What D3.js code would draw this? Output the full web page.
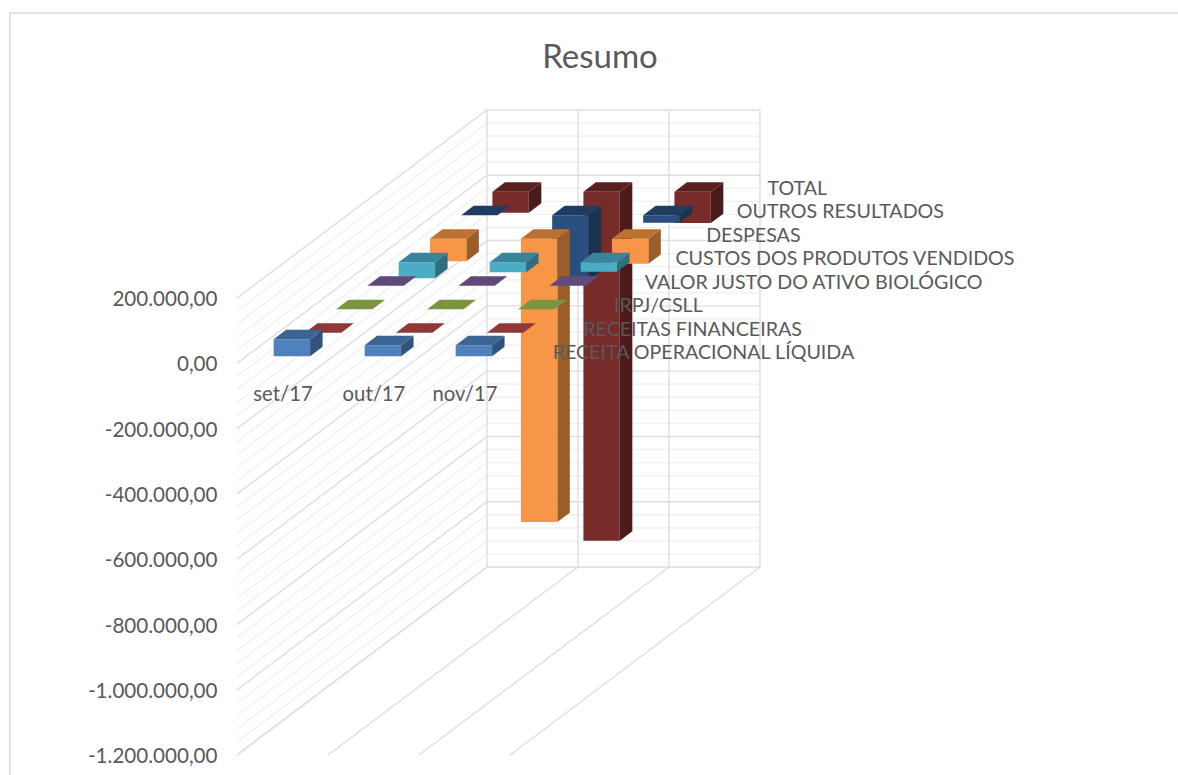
<!DOCTYPE html>
<html>
<head>
<meta charset="utf-8">
<script src="https://cdn.jsdelivr.net/npm/d3@7"></script>
<style>
  body { margin: 0; background: #fff; }
  text { font-family: Lato, "Open Sans", sans-serif; fill: #595959; }
</style>
</head>
<body>
<svg id="chart" width="1178" height="775"></svg>
<script>
const categories = ["set/17", "out/17", "nov/17"];
const seriesNames = [
  "RECEITA OPERACIONAL LÍQUIDA",
  "RECEITAS FINANCEIRAS",
  "IRPJ/CSLL",
  "VALOR JUSTO DO ATIVO BIOLÓGICO",
  "CUSTOS DOS PRODUTOS VENDIDOS",
  "DESPESAS",
  "OUTROS RESULTADOS",
  "TOTAL",
];
// one row per series, same order as seriesNames
const receitaOperacional = [52000, 34000, 34000];
const receitasFinanceiras = [0, 0, 0];
const irpjCsll = [0, 0, 0];
const valorJusto = [0, 0, 0];
const custos = [-49000, -31000, -29000];
const despesas = [-69000, -868000, -77000];
const outros = [0, -200000, -23000];
const total = [-64000, -1069000, -96000];
const seriesValues = [receitaOperacional, receitasFinanceiras, irpjCsll, valorJusto, custos, despesas, outros, total];
const yTicks = [200000, 0, -200000, -400000, -600000, -800000, -1000000, -1200000];
const minorStep = 40000;

// front, top, side colours of each series
const faceColors = [
  ["#4f81bd", "#3b6593", "#31527c"],
  ["#943634", "#8f3835", "#632423"],
  ["#7a9440", "#7a9440", "#4f6228"],
  ["#604a7b", "#604a7b", "#3f3151"],
  ["#4bacc6", "#39849b", "#2f6d80"],
  ["#f79646", "#bd7131", "#9a5e2a"],
  ["#2a4e7e", "#1f3d61", "#1a3350"],
  ["#772c2a", "#5a201f", "#4b1b1a"],
];

const svg = d3.select("#chart");
const fmt = d3.formatLocale({ decimal: ",", thousands: ".", grouping: [3], currency: ["", ""], minus: "-" }).format(",.2f");

// oblique projection: back wall in pixels, plus a shift for the depth
const wallLeft = 487, wallRight = 760, wallTop = 110, wallBottom = 567;
const depthDx = -250, depthDy = 188;

const yBack = d3.scaleLinear().domain([-1200000, 200000]).range([wallBottom, wallTop]);
const yFront = d3.scaleLinear().domain([-1200000, 200000]).range([wallBottom + depthDy, wallTop + depthDy]);
const xBack = d3.scaleBand().domain(categories).range([wallLeft, wallRight]).paddingInner(0).paddingOuter(0);
const xFront = d3.scaleBand().domain(categories).range([wallLeft + depthDx, wallRight + depthDx]);
// depth in series slots, 0 is the front edge
const depth = d3.scaleLinear().domain([0, seriesNames.length]).range([1, 0]);

function project(x, v, d) {
  const t = depth(d);
  return [x + t * depthDx, yBack(v) + t * depthDy];
}
const pts = (arr) => arr.map((p) => p.join(",")).join(" ");

const chartArea = svg.append("g");

// outer frame, the right and bottom sides are cut off in the picture
chartArea.append("path")
  .attr("d", "M10,775V13H1178")
  .attr("fill", "none")
  .attr("stroke", "#dcdcdc")
  .attr("stroke-width", 1.6);

chartArea.append("text")
  .attr("x", 600).attr("y", 56)
  .attr("dy", "0.35em")
  .attr("text-anchor", "middle")
  .attr("font-size", 33)
  .text("Resumo");

// walls
const minorValues = d3.range(-1200000, 200001, minorStep).filter((v) => v % 200000 !== 0);
const grid = svg.append("g").attr("fill", "none");
minorValues.forEach((v) => {
  const [x0, y0] = project(wallLeft, v, 0);
  grid.append("path")
    .attr("d", `M${x0},${y0}L${wallLeft},${yBack(v)}L${wallRight},${yBack(v)}`)
    .attr("stroke", "#f0f0f0").attr("stroke-width", 1.3);
});
yTicks.forEach((v) => {
  const [x0, y0] = project(wallLeft, v, 0);
  grid.append("path")
    .attr("d", `M${x0},${y0}L${wallLeft},${yBack(v)}L${wallRight},${yBack(v)}`)
    .attr("stroke", "#dedede").attr("stroke-width", 1.4);
});
[...categories.map((c) => xBack(c)), wallRight].forEach((x) => {
  const [fx, fy] = project(x, -1200000, 0);
  grid.append("path")
    .attr("d", `M${x},${wallTop}L${x},${wallBottom}L${fx},${fy}`)
    .attr("stroke", "#dedede").attr("stroke-width", 1.4);
});

// bars, back series first
const barW = xBack.bandwidth() / 2.5;
const barOffset = (xBack.bandwidth() - barW) / 2;
const barNear = 0.3, barFar = 0.7;

d3.range(seriesNames.length - 1, -1, -1).forEach((s) => {
  const g = svg.append("g").attr("class", "series");
  categories.forEach((c, i) => {
    const v = seriesValues[s][i];
    const xl = xBack(c) + barOffset, xr = xl + barW;
    const topV = Math.max(v, 0), botV = Math.min(v, 0);
    const fl = project(xl, topV, s + barNear), fr = project(xr, topV, s + barNear);
    const bl = project(xl, topV, s + barFar), br = project(xr, topV, s + barFar);
    const frb = project(xr, botV, s + barNear), flb = project(xl, botV, s + barNear);
    const brb = project(xr, botV, s + barFar);
    const [front, top, side] = faceColors[s];
    if (v !== 0) {
      g.append("polygon").attr("points", pts([fr, br, brb, frb])).attr("fill", side);
      g.append("polygon").attr("points", pts([fl, fr, frb, flb])).attr("fill", front);
    }
    g.append("polygon").attr("points", pts([fl, bl, br, fr])).attr("fill", top);
  });
});

// axes on the front edge
const axisY = svg.append("g")
  .attr("transform", "translate(219.5,1)")
  .call(d3.axisLeft(yFront).tickValues(yTicks).tickFormat(fmt).tickSize(0).tickPadding(2));
axisY.select(".domain").remove();
axisY.selectAll("text").attr("font-size", 20.6).attr("font-family", null).style("fill", "#595959");

const axisX = svg.append("g")
  .attr("transform", "translate(0.5,387)")
  .call(d3.axisBottom(xFront).tickSize(0).tickPadding(0));
axisX.select(".domain").remove();
axisX.selectAll("text").attr("font-size", 20.3).attr("font-family", null).style("fill", "#595959");

// series names sit along the depth axis
seriesNames.forEach((name, s) => {
  const [x, y] = project(wallRight, 0, s + 0.5);
  svg.append("text")
    .attr("x", x + 27 - s * 0.55)
    .attr("y", y + 0.8)
    .attr("dy", "0.35em")
    .attr("font-size", 19.65)
    .text(name);
});
</script>
</body>
</html>
